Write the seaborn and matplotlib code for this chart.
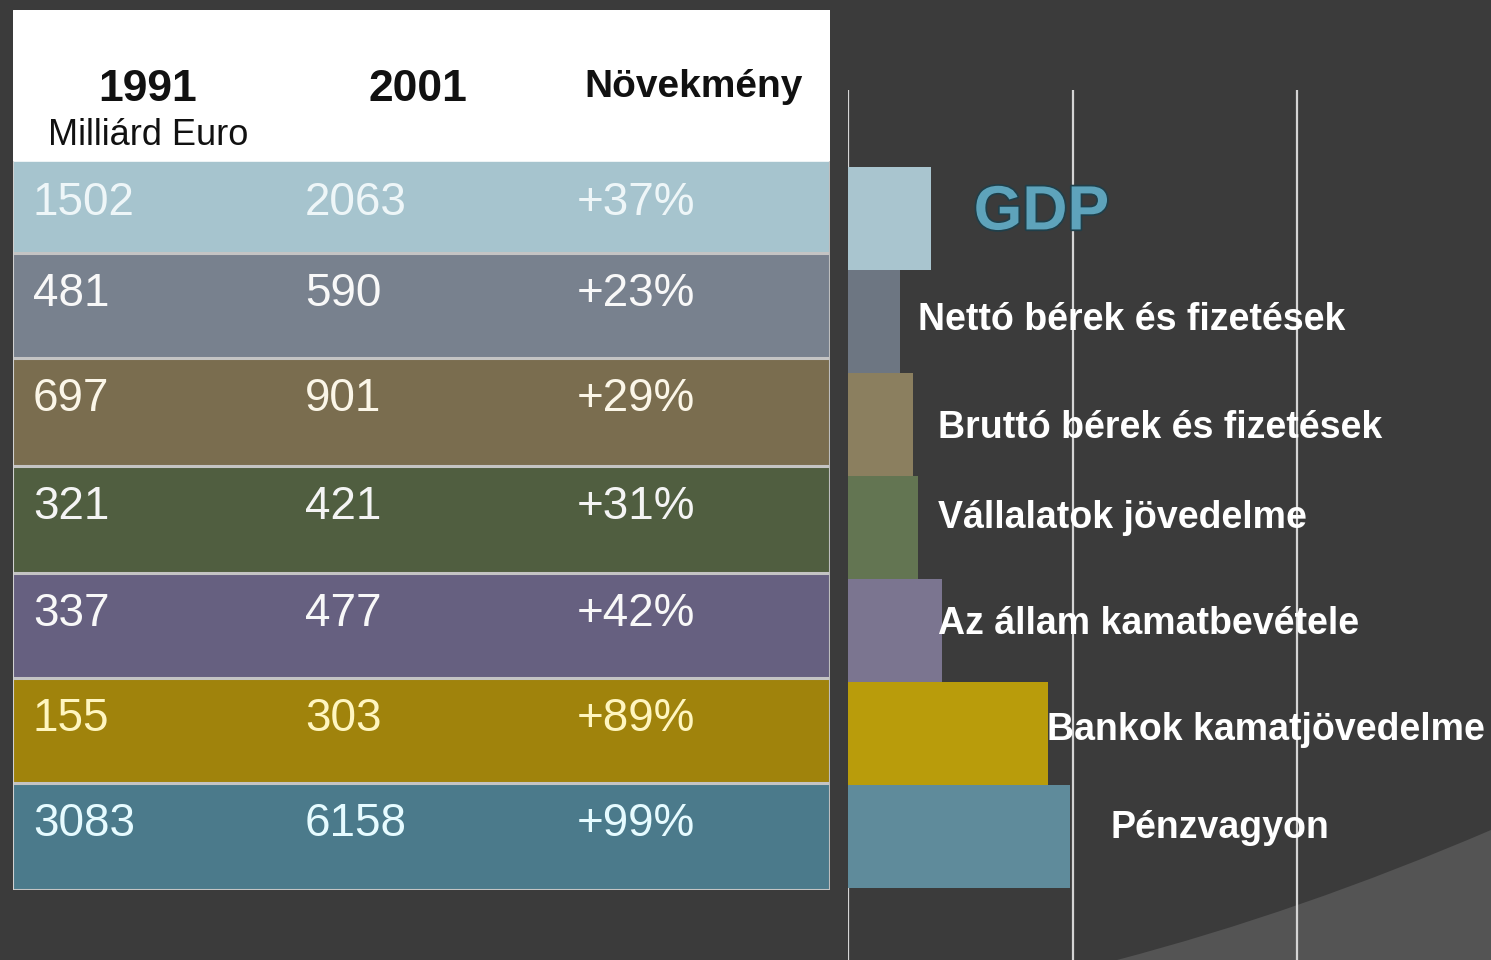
import matplotlib
matplotlib.use("Agg")
import matplotlib.pyplot as plt
import matplotlib.patheffects as pe
from matplotlib.path import Path
from matplotlib.patches import PathPatch
import seaborn as sns

# --------- Adatok ---------
categories = ["GDP", "Nettó bérek és fizetések", "Bruttó bérek és fizetések",
              "Vállalatok jövedelme", "Az állam kamatbevétele",
              "Bankok kamatjövedelme", "Pénzvagyon"]
values_1991 = [1502, 481, 697, 321, 337, 155, 3083]
values_2001 = [2063, 590, 901, 421, 477, 303, 6158]
growth_pct = [37, 23, 29, 31, 42, 89, 99]

header_years = ["1991", "2001"]
header_unit = "Milliárd Euro"
header_growth = "Növekmény"

# --------- Színek ---------
bg = "#3b3b3b"
row_colors = ["#a6c4ce", "#78818e", "#7a6d4f", "#505e40", "#666080", "#a0830c", "#4b7a8b"]
bar_colors = ["#a9c5cf", "#6d7682", "#8b7f5f", "#637552", "#7b7590", "#b99c0b", "#5f8b9b"]
text_colors = ["#eef6f8", "#f8f8f8", "#fbf6e8", "#f4f4f4", "#f8f8f8", "#fff6c0", "#e6fbff"]

sns.set_style("white")
plt.rcParams["font.family"] = ["Liberation Sans", "DejaVu Sans"]

fig = plt.figure(figsize=(14.91, 9.60), dpi=100, facecolor=bg)

# háttér ív jobb alul
verts = [(1117 / 1491, 0), (1300 / 1491, 1 - 912 / 960), (1, 1 - 830 / 960), (1, 0), (1117 / 1491, 0)]
codes = [Path.MOVETO, Path.CURVE3, Path.CURVE3, Path.LINETO, Path.CLOSEPOLY]
fig.patches.append(PathPatch(Path(verts, codes), transform=fig.transFigure,
                             facecolor="#545454", edgecolor="none", zorder=-1))

# --------- Táblázat ---------
ax_t = fig.add_axes([13 / 1491, 70 / 960, 817 / 1491, 880 / 960])
ax_t.set_xlim(0, 817)
ax_t.set_ylim(880, 0)
ax_t.axis("off")

edges = [152, 243, 348, 456, 563, 668, 773, 880]
col_x = [20, 292, 564]
ax_t.axhspan(0, 152, color="white", zorder=1)
for i in range(len(categories)):
    ax_t.axhspan(edges[i], edges[i + 1], color=row_colors[i], zorder=1)
    row_vals = [str(values_1991[i]), str(values_2001[i]), f"+{growth_pct[i]}%"]
    for x, txt in zip(col_x, row_vals):
        ax_t.text(x, edges[i] + 41, txt, color=text_colors[i], fontsize=33,
                  va="center", ha="left", zorder=3)
for e in edges[1:]:
    ax_t.axhline(e, color="#c4c4c4", lw=2.2, zorder=2)
ax_t.axvline(0, ymin=0, ymax=1 - 152 / 880, color="#d0d0d0", lw=1.5, zorder=2)
ax_t.axvline(817, ymin=0, ymax=1 - 152 / 880, color="#bdbdbd", lw=1.5, zorder=2)

ax_t.text(135, 79, header_years[0], fontsize=32, fontweight="bold", ha="center", va="center", color="#111111")
ax_t.text(135, 125, header_unit, fontsize=26, ha="center", va="center", color="#111111")
ax_t.text(405, 79, header_years[1], fontsize=32, fontweight="bold", ha="center", va="center", color="#111111")
ax_t.text(681, 77, header_growth, fontsize=28, fontweight="bold", ha="center", va="center", color="#111111")

# --------- Sávdiagram ---------
ax = fig.add_axes([848 / 1491, 0, 643 / 1491, 870 / 960])
ax.set_facecolor("none")
sns.barplot(x=growth_pct, y=categories, hue=categories, palette=bar_colors,
            orient="h", width=1.0, saturation=1, linewidth=0, legend=False, ax=ax)
ax.set_xlim(0, 643 / 2.245)
ax.set_ylim(7.2, -1.243)
ax.set_xticks([0, 100, 200])
ax.set_yticks([])
ax.grid(axis="x", color="#d4d4d4", lw=1.6)
ax.set_axisbelow(True)
ax.tick_params(axis="x", length=0, labelbottom=False)
ax.set_xlabel("")
ax.set_ylabel("")
for s in ax.spines.values():
    s.set_visible(False)

label_x = [56, 31, 40, 40, 40, 88.5, 117]
label_dy = [-0.05, -0.01, 0.04, -0.09, -0.06, -0.035, -0.08]
for i, name in enumerate(categories):
    if i == 0:
        ax.text(label_x[i], i + label_dy[i], name, fontsize=45, fontweight="bold",
                color="#5ea3bb", va="center", ha="left",
                path_effects=[pe.withStroke(linewidth=2.5, foreground="#1f3f4a")])
    else:
        ax.text(label_x[i], i + label_dy[i], name, fontsize=27, fontweight="bold",
                color="white", va="center", ha="left")

fig.savefig("out.png", dpi=100, facecolor=bg)
